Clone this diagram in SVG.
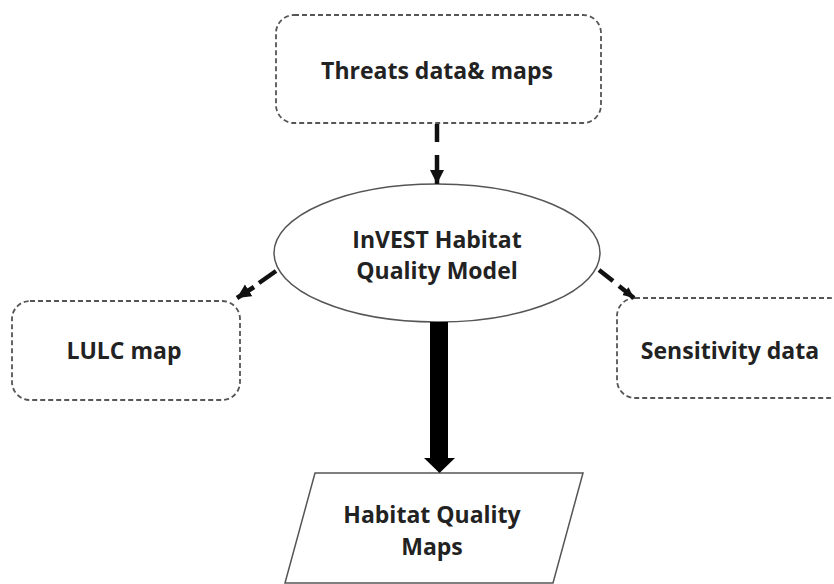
<svg xmlns="http://www.w3.org/2000/svg" width="834" height="584" viewBox="0 0 834 584">
<style>
.box{fill:#fff;stroke:#555;stroke-width:1.8;stroke-dasharray:5 3}
.solid{fill:#fff;stroke:#555;stroke-width:1.5}
.t{font-family:"Open Sans","Liberation Sans",sans-serif;font-weight:bold;font-size:23px;fill:#222;text-anchor:middle}
.dash{stroke:#111;stroke-width:4.5;fill:none}
</style>
<defs>
<marker id="ah" markerWidth="16" markerHeight="16" refX="14" refY="7" orient="auto" markerUnits="userSpaceOnUse">
<path d="M0,0 L14,7 L0,14 z" fill="#111"/>
</marker>
<marker id="ahs" markerWidth="12" markerHeight="12" refX="11" refY="5" orient="auto" markerUnits="userSpaceOnUse">
<path d="M0,0 L11,5 L0,10 z" fill="#111"/>
</marker>
</defs>
<rect width="834" height="584" fill="#fff"/>
<g id="threats">
<rect class="box" x="276" y="15" width="325" height="108" rx="18"/>
<text class="t" x="437" y="79">Threats data&amp; maps</text>
</g>
<g id="model">
<ellipse class="solid" cx="437" cy="253" rx="163" ry="69"/>
<text class="t" x="437" y="248">InVEST Habitat</text>
<text class="t" x="437" y="279">Quality Model</text>
</g>
<g id="lulc">
<rect class="box" x="12" y="301" width="228" height="99" rx="18"/>
<text class="t" x="124" y="359">LULC map</text>
</g>
<g id="sensitivity">
<rect class="box" x="617" y="298" width="230" height="100" rx="18"/>
<text class="t" x="730" y="359">Sensitivity data</text>
</g>
<g id="maps">
<polygon class="solid" points="315,473 583,473 553,583 285,583"/>
<text class="t" x="432" y="523">Habitat Quality</text>
<text class="t" x="432" y="555">Maps</text>
</g>
<g id="connectors">
<line class="dash" x1="437" y1="124" x2="437" y2="142"/>
<line class="dash" x1="437" y1="155" x2="437" y2="184" marker-end="url(#ah)"/>
<line class="dash" x1="276" y1="271" x2="259" y2="283"/>
<line class="dash" x1="254" y1="287" x2="237" y2="298" marker-end="url(#ah)"/>
<line class="dash" x1="599" y1="270" x2="613" y2="281"/>
<line class="dash" x1="619" y1="286" x2="634" y2="298" marker-end="url(#ahs)"/>
<rect x="430" y="322" width="18" height="138" fill="#000"/>
<polygon points="424,458 455,458 439.5,473" fill="#000"/>
</g>
</svg>
